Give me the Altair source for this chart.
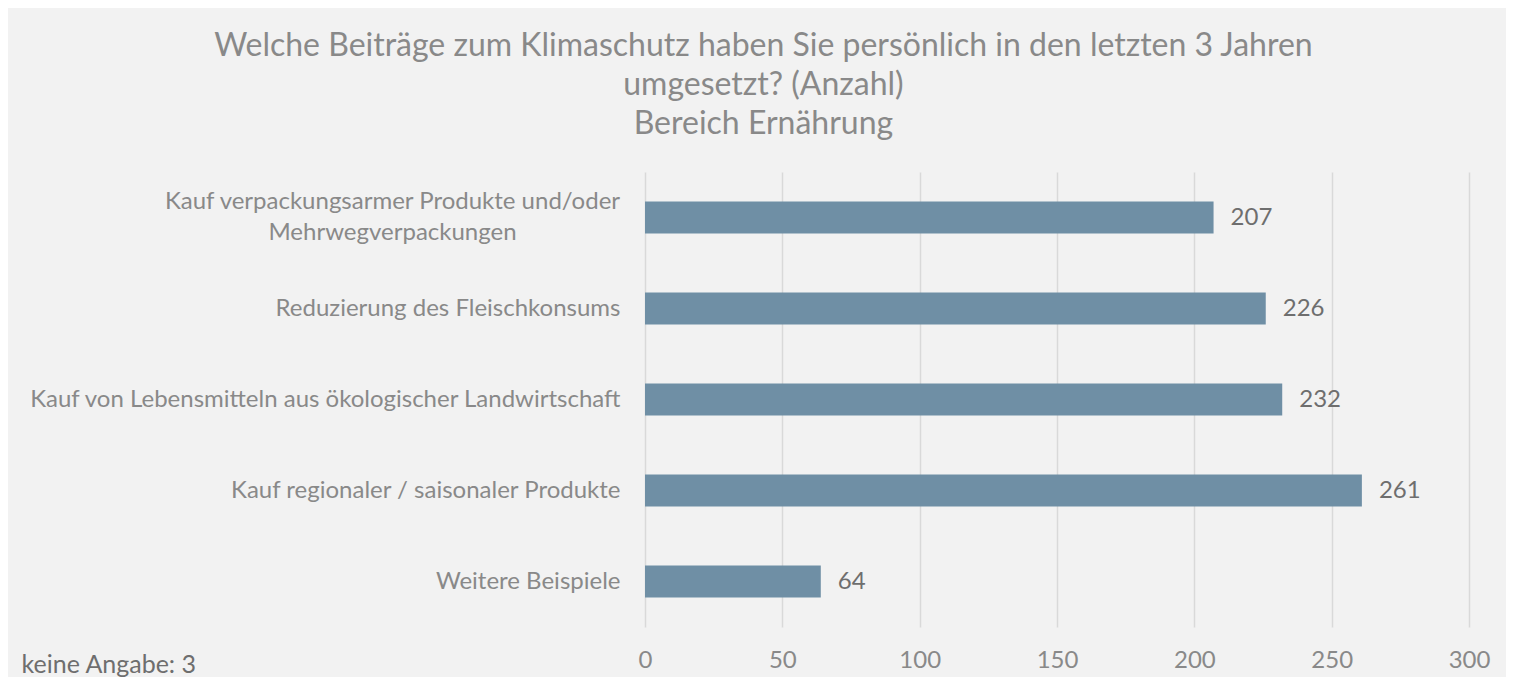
import altair as alt
import pandas as pd

categories = [
    "Kauf verpackungsarmer Produkte und/oder\nMehrwegverpackungen",
    "Reduzierung des Fleischkonsums",
    "Kauf von Lebensmitteln aus ökologischer Landwirtschaft",
    "Kauf regionaler / saisonaler Produkte",
    "Weitere Beispiele",
]
values = [207, 226, 232, 261, 64]
x_ticks = [0, 50, 100, 150, 200, 250, 300]
title_lines = [
    "Welche Beiträge zum Klimaschutz haben Sie persönlich in den letzten 3 Jahren",
    "umgesetzt? (Anzahl)",
    "Bereich Ernährung",
]
note = "keine Angabe: 3"

df = pd.DataFrame({"cat": categories, "val": values})

FONT = "Lato"
MULTI = "indexof(datum.value, 'Mehrweg') >= 0"

base = alt.Chart(df).encode(
    y=alt.Y(
        "cat:N",
        sort=categories,
        title=None,
        scale=alt.Scale(paddingInner=0.65, paddingOuter=0.325),
        axis=alt.Axis(
            labelExpr="split(datum.label, '\\n')",
            labelFontSize=24,
            labelColor="#898989",
            labelFont=FONT,
            labelPadding={"condition": {"test": MULTI, "value": 253}, "value": 25},
            labelAlign={"condition": {"test": MULTI, "value": "center"}, "value": "right"},
            labelOffset={"condition": {"test": MULTI, "value": -15.5}, "value": 0},
            labelLineHeight=31,
            labelLimit=800,
            ticks=False,
            domain=False,
            grid=False,
        ),
    ),
    x=alt.X(
        "val:Q",
        scale=alt.Scale(domain=[0, 300], nice=False),
        axis=alt.Axis(
            values=x_ticks,
            labelFontSize=24,
            labelColor="#898989",
            labelFont=FONT,
            labelPadding=21,
            labelFlush=False,
            ticks=False,
            domain=False,
            grid=True,
            gridColor="#d9d9d9",
            gridWidth=1.5,
            title=note,
            titleFont=FONT,
            titleFontSize=25,
            titleFontWeight="normal",
            titleColor="#6e6e6e",
            titleAnchor="start",
            titleAlign="left",
            titleBaseline="middle",
            titleX=-624,
            titleY=37,
        ),
    ),
)

bars = base.mark_bar(color="#6f8fa5")
labels = base.mark_text(
    align="left", baseline="middle", dx=17, fontSize=24, font=FONT, color="#6e6e6e"
).encode(text="val:Q")

chart = (
    (bars + labels)
    .properties(
        width=824,
        height=455,
        title=alt.TitleParams(
            text=title_lines,
            font=FONT,
            fontSize=32,
            fontWeight="normal",
            color="#898989",
            lineHeight=39,
            anchor="middle",
            frame="bounds",
            offset=31,
            dx=8,
        ),
        autosize=alt.AutoSizeParams(type="none"),
        padding={"left": 637, "top": 164, "right": 37, "bottom": 50},
    )
    .configure(background="#f2f2f2")
    .configure_view(stroke=None)
)

chart.save("out.html", embed_options={"renderer": "svg", "actions": False})
